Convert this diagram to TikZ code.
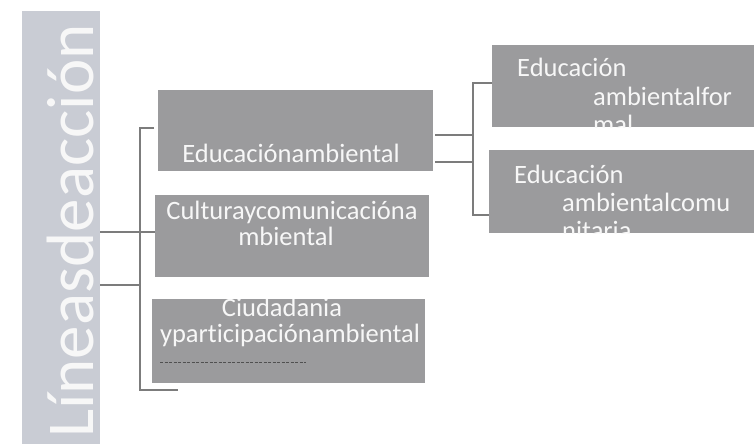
\documentclass[tikz,border=0pt]{standalone}
\usepackage{fontspec}
\setmainfont{Carlito}[Ligatures=NoCommon]
\definecolor{leftfill}{HTML}{C9CCD4}
\definecolor{boxfill}{HTML}{9B9B9D}
\definecolor{linecol}{HTML}{7C7C7C}
\definecolor{txt}{HTML}{F7F7F7}
\definecolor{dashcol}{HTML}{505050}
\tikzset{
  box/.style={fill=boxfill, draw=none, inner sep=0pt, outer sep=0pt, anchor=north west},
  lbl/.style={text=txt, inner sep=0pt, font=\fontsize{26.5}{27}\selectfont},
  conn/.style={draw=linecol, line width=2.2pt},
}
\begin{document}
\begin{tikzpicture}[x=1pt,y=-1pt]
\useasboundingbox (0,0) rectangle (754,444);
% left title bar
\node[box, fill=leftfill, minimum width=78pt, minimum height=433pt] (L) at (22,11) {};
\node[lbl, rotate=90, anchor=base west, font=\fontsize{67}{67}\selectfont] (Lt) at (93,438) {Líneasdeacción};
% middle boxes
\node[box, minimum width=275pt, minimum height=81pt] (b1) at (158,90) {};
\node[box, minimum width=274pt, minimum height=82pt] (b2) at (155,195) {};
\node[box, minimum width=273pt, minimum height=84pt] (b3) at (152,299) {};
% right boxes
\node[box, minimum width=262pt, minimum height=82pt] (r1) at (492,45) {};
\node[box, minimum width=265pt, minimum height=83pt] (r2) at (489,150) {};
% texts
\node[lbl, anchor=base] (t1) at (291,162) {Educaciónambiental};
\node[lbl, anchor=base] (t2a) at (292,219) {Culturaycomunicacióna};
\node[lbl, anchor=base] (t2b) at (286,245) {mbiental};
\begin{scope}
  \clip (b3.north west) rectangle (b3.south east);
  \node[lbl, anchor=base] (t3a) at (282,316) {Ciudadania};
  \node[lbl, anchor=base] (t3b) at (290,342) {yparticipaciónambiental};
\end{scope}
\draw[dashcol, line width=0.8pt, dash pattern=on 3pt off 1.5pt] (160,362) -- (306,362);
\begin{scope}
  \clip (r1.north west) rectangle (r1.south east);
  \node[lbl, anchor=base west] (r1a) at (517,77) {Educación};
  \node[lbl, anchor=base west] (r1b) at (593,105) {ambientalfor};
  \node[lbl, anchor=base west] (r1c) at (593,133) {mal};
\end{scope}
\begin{scope}
  \clip (r2.north west) rectangle (r2.south east);
  \node[lbl, anchor=base west] (r2a) at (514,183) {Educación};
  \node[lbl, anchor=base west] (r2b) at (562,211) {ambientalcomu};
  \node[lbl, anchor=base west] (r2c) at (562,239) {nitaria};
\end{scope}
% left bracket
\coordinate (lt) at (140,128);
\coordinate (lb) at (140,390);
\coordinate (ltick) at (154,128);
\coordinate (lbe) at (178,390);
\draw[conn] (ltick) -- (lt) -- (lb) -- (lbe);
\draw[conn] (L.east |- 0,232) -- (b2.west |- 0,232);
\draw[conn] (L.east |- 0,285) -- (lt |- 0,285);
% right bracket
\coordinate (rt) at (473,83);
\coordinate (rb) at (473,215);
\draw[conn] (r1.west |- rt) -- (rt) -- (rb) -- (r2.west |- rb);
\draw[conn] ([xshift=2pt]b1.east |- 0,135) -- (rt |- 0,135);
\draw[conn] ([xshift=2pt]b1.east |- 0,162) -- (rt |- 0,162);
\end{tikzpicture}
\end{document}
